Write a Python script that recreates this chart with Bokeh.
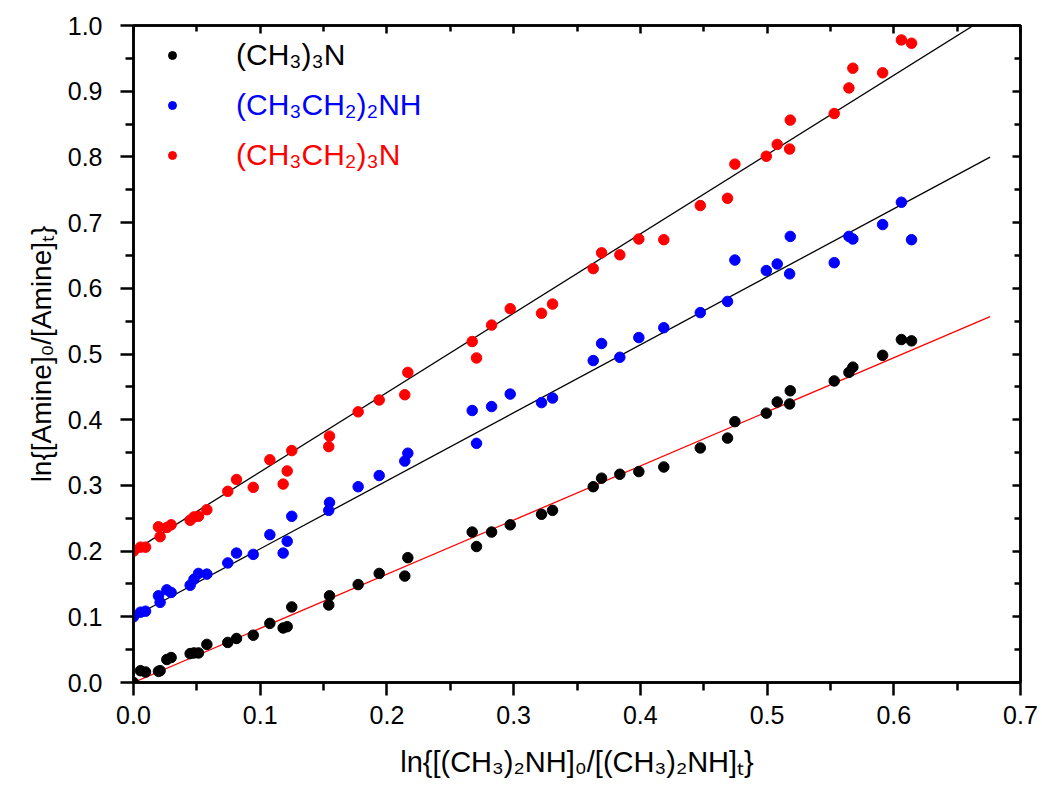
from bokeh.plotting import figure
from bokeh.models import (Range1d, LinearAxis, FixedTicker, PrintfTickFormatter,
                          CustomJSTickFormatter, Legend, LegendItem)
from bokeh.embed import file_html
from bokeh.resources import INLINE

# ---------------- data ----------------
x_vals = [0.0, 0.0055, 0.0095, 0.0197, 0.021, 0.0263, 0.0297, 0.0447, 0.0477, 0.0513,
          0.0579, 0.0744, 0.0813, 0.0945, 0.1076, 0.1181, 0.1213, 0.1249, 0.1541, 0.1547,
          0.1773, 0.1939, 0.2141, 0.2165, 0.2673, 0.2707, 0.2826, 0.2973, 0.3220, 0.3307,
          0.3628, 0.3694, 0.3838, 0.3988, 0.4185, 0.4473, 0.4688, 0.4746, 0.4994, 0.5080,
          0.5178, 0.5183, 0.5530, 0.5646, 0.5677, 0.5912, 0.6060, 0.6140]

y_tma = [0.0, 0.018, 0.016, 0.017, 0.018, 0.035, 0.038, 0.044, 0.045, 0.045,
         0.058, 0.061, 0.067, 0.072, 0.090, 0.083, 0.085, 0.115, 0.118, 0.132,
         0.149, 0.166, 0.162, 0.190, 0.229, 0.207, 0.229, 0.240, 0.256, 0.262,
         0.298, 0.311, 0.317, 0.321, 0.328, 0.357, 0.372, 0.397, 0.410, 0.427,
         0.424, 0.444, 0.459, 0.472, 0.480, 0.498, 0.522, 0.520]

y_dea = [0.100, 0.107, 0.1085, 0.132, 0.122, 0.141, 0.137, 0.148, 0.157, 0.166,
         0.165, 0.182, 0.197, 0.195, 0.225, 0.197, 0.215, 0.253, 0.262, 0.274,
         0.298, 0.315, 0.337, 0.349, 0.414, 0.364, 0.420, 0.439, 0.426, 0.433,
         0.490, 0.516, 0.495, 0.525, 0.540, 0.563, 0.580, 0.643, 0.627, 0.637,
         0.622, 0.679, 0.639, 0.679, 0.675, 0.697, 0.731, 0.674]

y_tea = [0.200, 0.206, 0.206, 0.237, 0.222, 0.236, 0.240, 0.247, 0.252, 0.253,
         0.263, 0.291, 0.309, 0.297, 0.339, 0.302, 0.322, 0.353, 0.359, 0.375,
         0.412, 0.430, 0.438, 0.472, 0.519, 0.494, 0.544, 0.569, 0.562, 0.576,
         0.630, 0.654, 0.651, 0.675, 0.674, 0.726, 0.737, 0.789, 0.801, 0.819,
         0.812, 0.856, 0.866, 0.905, 0.935, 0.928, 0.978, 0.973]

series_names = ["(CH\u2083)\u2083N", "(CH\u2083CH\u2082)\u2082NH", "(CH\u2083CH\u2082)\u2083N"]
series_colors = ["black", "blue", "red"]

fit_x = [0.0, 0.676]
fit_slopes = [0.824, 1.035, 1.207]
fit_intercepts = [0.0, 0.1, 0.2]
fit_colors = ["red", "black", "black"]

x_ticks = [0.0, 0.1, 0.2, 0.3, 0.4, 0.5, 0.6, 0.7]
y_ticks = [0.0, 0.1, 0.2, 0.3, 0.4, 0.5, 0.6, 0.7, 0.8, 0.9, 1.0]

x_label = "ln{[(CH\u2083)\u2082NH]\u2080/[(CH\u2083)\u2082NH]\u209c}"
y_label = "ln{[Amine]\u2080/[Amine]\u209c}"

FONT = "Liberation Sans"

# ---------------- figure ----------------
p = figure(width=1042, height=789,
           x_range=Range1d(0, 0.7), y_range=Range1d(0, 1.0),
           output_backend="svg", toolbar_location=None,
           min_border_left=133, min_border_right=22,
           min_border_top=25, min_border_bottom=107,
           x_axis_label=x_label, y_axis_label=y_label)
p.xgrid.visible = False
p.ygrid.visible = False
p.outline_line_color = "black"
p.outline_line_width = 2.5
p.background_fill_color = "white"
p.border_fill_color = "white"


def minors(ticks):
    out = []
    for a, b in zip(ticks[:-1], ticks[1:]):
        out.append((a + b) / 2.0)
    return out


def style_axis(ax, ticks, labels=True, inward=False):
    ax.ticker = FixedTicker(ticks=ticks, minor_ticks=minors(ticks))
    ax.axis_line_width = 2.5
    ax.axis_line_color = "black"
    ax.major_tick_line_width = 2.5
    ax.minor_tick_line_width = 2.5
    ax.major_tick_line_color = "black"
    ax.minor_tick_line_color = "black"
    if inward:
        ax.major_tick_in = 8
        ax.major_tick_out = 0
        ax.minor_tick_in = 6
        ax.minor_tick_out = 0
    else:
        ax.major_tick_in = 0
        ax.major_tick_out = 13
        ax.minor_tick_in = 0
        ax.minor_tick_out = 8
    if labels:
        ax.formatter = PrintfTickFormatter(format="%.1f")
        ax.major_label_text_font = FONT
        ax.major_label_text_font_size = "25px"
        ax.major_label_text_color = "black"
        ax.axis_label_text_font = FONT
        ax.axis_label_text_font_style = "normal"
        ax.axis_label_text_color = "black"
    else:
        ax.formatter = CustomJSTickFormatter(code="return ''")


style_axis(p.xaxis[0], x_ticks)
style_axis(p.yaxis[0], y_ticks)
p.xaxis[0].major_label_standoff = 10
p.yaxis[0].major_label_standoff = 18
p.xaxis[0].axis_label_text_font_size = "29px"
p.yaxis[0].axis_label_text_font_size = "28px"
p.xaxis[0].axis_label_standoff = 19
p.yaxis[0].axis_label_standoff = 8

top_ax = LinearAxis()
right_ax = LinearAxis()
style_axis(top_ax, x_ticks, labels=False, inward=True)
style_axis(right_ax, y_ticks, labels=False, inward=True)
p.add_layout(top_ax, "above")
p.add_layout(right_ax, "right")

# fit lines
for s, b, c in zip(fit_slopes, fit_intercepts, fit_colors):
    p.line(x=fit_x, y=[b + s * xv for xv in fit_x], line_color=c, line_width=1.3)

# scatter series
renderers = []
for ys, c in zip([y_tma, y_dea, y_tea], series_colors):
    r = p.scatter(x=x_vals, y=ys, size=10.5, fill_color=c, line_color=c, marker="circle")
    renderers.append(r)

# legends (one per entry so each label keeps its series colour)
legend_rows_from_bottom = [610, 560, 510]
for r, name, c, ly in zip(renderers, series_names, series_colors, legend_rows_from_bottom):
    lg = Legend(items=[LegendItem(label=name, renderers=[r])],
                location=(29, ly), orientation="vertical",
                label_text_color=c, label_text_font=FONT,
                label_text_font_size="30px",
                glyph_width=20, glyph_height=22, label_height=30,
                label_standoff=54, padding=0, margin=0, spacing=0,
                border_line_alpha=0, background_fill_alpha=0)
    p.add_layout(lg, "center")

open("out.html", "w").write(file_html(p, INLINE))
